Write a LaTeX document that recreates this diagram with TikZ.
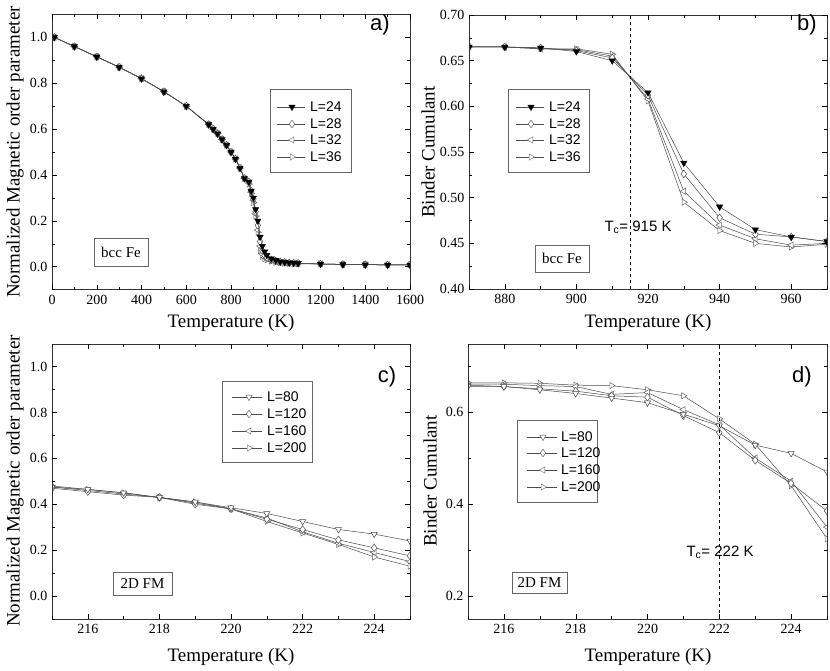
\documentclass[tikz,border=0pt]{standalone}
\usepackage{fontspec}
\setmainfont{Liberation Serif}
\newfontfamily\arial{Liberation Sans}
\usetikzlibrary{plotmarks}
\begin{document}
\begin{tikzpicture}[x=1pt,y=1pt,
  ser/.style={draw=black!70,line width=0.5pt},
  m24/.style={mark=triangle*,mark size=3.6pt,mark options={solid,rotate=180,fill=black,draw=black}},
  mdn/.style={mark=triangle*,mark size=3.6pt,mark options={solid,rotate=180,fill=white,draw=black!70}},
  mdi/.style={mark=diamond*,mark size=3.8pt,mark options={solid,fill=white,draw=black!70}},
  mle/.style={mark=triangle*,mark size=3.6pt,mark options={solid,rotate=90,fill=white,draw=black!60}},
  mri/.style={mark=triangle*,mark size=3.6pt,mark options={solid,rotate=-90,fill=white,draw=black!60}},
  tick/.style={font=\fontsize{14}{16}\selectfont},
  ttl/.style={font=\fontsize{19}{22}\selectfont},
  lg/.style={font=\arial\fontsize{14}{16}\selectfont,anchor=west,inner sep=0pt},
  pl/.style={font=\arial\fontsize{22}{24}\selectfont},
  fbox/.style={draw=black!60,fill=white,font=\fontsize{15}{17}\selectfont}]
\useasboundingbox[fill=white] (0,0) rectangle (830,670);

% ================= Panel a
\begin{scope}[x=0.22375pt,y=229.4pt,shift={(52pt,403.3pt)}]
\begin{scope}
\clip (0,-0.1) rectangle (1600,1.1);
\draw[ser,mri] plot coordinates {(10,1.0)(100,0.96)(200,0.915)(300,0.87)(400,0.82)(500,0.763)(600,0.70)(700,0.62)(720,0.60)(740,0.58)(760,0.555)(780,0.53)(800,0.50)(820,0.47)(840,0.43)(860,0.385)(880,0.36)(890,0.32)(900,0.28)(910,0.22)(920,0.15)(930,0.07)(940,0.045)(950,0.035)(960,0.03)(980,0.025)(1000,0.02)(1020,0.018)(1040,0.016)(1060,0.015)(1080,0.014)(1100,0.013)(1200,0.012)(1300,0.01)(1400,0.009)(1500,0.008)(1600,0.008)};
\draw[ser,mle] plot coordinates {(10,1.0)(100,0.96)(200,0.915)(300,0.87)(400,0.82)(500,0.763)(600,0.70)(700,0.62)(720,0.60)(740,0.58)(760,0.555)(780,0.53)(800,0.50)(820,0.47)(840,0.43)(860,0.385)(880,0.365)(890,0.325)(900,0.29)(910,0.23)(920,0.16)(930,0.09)(940,0.055)(950,0.04)(960,0.035)(980,0.028)(1000,0.022)(1020,0.019)(1040,0.017)(1060,0.016)(1080,0.015)(1100,0.014)(1200,0.012)(1300,0.01)(1400,0.009)(1500,0.008)(1600,0.008)};
\draw[ser,mdi] plot coordinates {(10,1.0)(100,0.96)(200,0.915)(300,0.87)(400,0.82)(500,0.763)(600,0.70)(700,0.62)(720,0.60)(740,0.58)(760,0.555)(780,0.53)(800,0.50)(820,0.47)(840,0.43)(860,0.385)(880,0.37)(890,0.33)(900,0.295)(910,0.24)(920,0.18)(930,0.11)(940,0.07)(950,0.05)(960,0.04)(980,0.03)(1000,0.025)(1020,0.021)(1040,0.019)(1060,0.017)(1080,0.016)(1100,0.015)(1200,0.012)(1300,0.01)(1400,0.009)(1500,0.008)(1600,0.008)};
\draw[ser,m24] plot coordinates {(10,1.0)(100,0.96)(200,0.915)(300,0.87)(400,0.82)(500,0.763)(600,0.70)(700,0.62)(720,0.60)(740,0.58)(760,0.555)(780,0.53)(800,0.50)(820,0.47)(840,0.43)(860,0.385)(880,0.37)(890,0.33)(900,0.30)(910,0.25)(920,0.20)(930,0.13)(940,0.09)(950,0.065)(960,0.05)(980,0.035)(1000,0.028)(1020,0.022)(1040,0.02)(1060,0.018)(1080,0.016)(1100,0.015)(1200,0.012)(1300,0.01)(1400,0.009)(1500,0.008)(1600,0.008)};
\end{scope}
\draw[black!80] (0,-0.1) rectangle (1600,1.1);
\foreach \t in {0,200,...,1600} {\draw (\t,-0.1) -- ++(0,5pt); \draw (\t,1.1) -- ++(0,-5pt); \node[tick,below=2pt] at (\t,-0.1) {\t};}
\foreach \t in {100,300,...,1500} {\draw (\t,-0.1) -- ++(0,3pt); \draw (\t,1.1) -- ++(0,-3pt);}
\foreach \v in {0.0,0.2,0.4,0.6,0.8,1.0} {\draw (0,\v) -- ++(5pt,0); \draw (1600,\v) -- ++(-5pt,0); \node[tick,left=1pt] at (0,\v) {\v};}
\foreach \v in {-0.1,0.1,0.3,0.5,0.7,0.9} {\draw (0,\v) -- ++(3pt,0); \draw (1600,\v) -- ++(-3pt,0);}
\end{scope}
\node[ttl] (axa) at (231,347) {Temperature (K)};
\node[ttl,rotate=90] (aya) at (15,518) {Normalized Magnetic order parameter};
\node[pl] (la) at (380,645) {a)};
\draw[black!60,fill=white] (270,581) rectangle (351,498);
\draw[ser] (277,563)--(305,563); \path[m24] plot coordinates {(292,563)}; \node[lg] (ta1) at (310,563) {L=24};
\draw[ser] (277,546)--(305,546); \path[mdi] plot coordinates {(292,546)}; \node[lg] (ta2) at (310,546) {L=28};
\draw[ser] (277,530)--(305,530); \path[mle] plot coordinates {(292,530)}; \node[lg] (ta3) at (310,530) {L=32};
\draw[ser] (277,513)--(305,513); \path[mri] plot coordinates {(292,513)}; \node[lg] (ta4) at (310,513) {L=36};
\node[fbox,minimum width=54pt,minimum height=28pt] (fa) at (121,418) {bcc Fe};

% ================= Panel b
\begin{scope}[x=3.58pt,y=913.3pt,shift={(-2645.6pt,15.68pt)}]
\begin{scope}
\clip (870,0.4) rectangle (970,0.7);
\draw[ser,mri] plot coordinates {(870,.665)(880,.665)(890,.663)(900,.663)(910,.657)(920,.606)(930,.495)(940,.464)(950,.450)(960,.446)(970,.449)};
\draw[ser,mle] plot coordinates {(870,.665)(880,.665)(890,.663)(900,.662)(910,.655)(920,.608)(930,.507)(940,.470)(950,.455)(960,.448)(970,.450)};
\draw[ser,mdi] plot coordinates {(870,.665)(880,.665)(890,.664)(900,.661)(910,.653)(920,.612)(930,.526)(940,.478)(950,.460)(960,.457)(970,.452)};
\draw[ser,m24] plot coordinates {(870,.665)(880,.665)(890,.664)(900,.660)(910,.650)(920,.615)(930,.538)(940,.490)(950,.465)(960,.457)(970,.452)};
\end{scope}
\draw[dashed,line width=0.8pt] (915,0.4) -- (915,0.7);
\draw[black!80] (870,0.4) rectangle (970,0.7);
\foreach \t in {880,900,...,960} {\draw (\t,0.4) -- ++(0,5pt); \draw (\t,0.7) -- ++(0,-5pt); \node[tick,below=2pt] at (\t,0.4) {\t};}
\foreach \t in {870,890,...,970} {\draw (\t,0.4) -- ++(0,3pt); \draw (\t,0.7) -- ++(0,-3pt);}
\foreach \v in {0.40,0.45,0.50,0.55,0.60,0.65,0.70} {\draw (870,\v) -- ++(5pt,0); \draw (970,\v) -- ++(-5pt,0); \node[tick,left=1pt] at (870,\v) {\v};}
\foreach \v in {0.425,0.475,0.525,0.575,0.625,0.675} {\draw (870,\v) -- ++(3pt,0); \draw (970,\v) -- ++(-3pt,0);}
\end{scope}
\node[ttl] (axb) at (648,347) {Temperature (K)};
\node[ttl,rotate=90] (ayb) at (428,518) {Binder Cumulant};
\node[pl] (lb) at (807,645) {b)};
\node[font=\arial\fontsize{15}{17}\selectfont,anchor=west] (tcb) at (601,443) {T\textsubscript{c}= 915 K};
\draw[black!60,fill=white] (508,581) rectangle (589,498);
\draw[ser] (516,563)--(544,563); \path[m24] plot coordinates {(531,563)}; \node[lg] (tb1) at (549,563) {L=24};
\draw[ser] (516,546)--(544,546); \path[mdi] plot coordinates {(531,546)}; \node[lg] (tb2) at (549,546) {L=28};
\draw[ser] (516,530)--(544,530); \path[mle] plot coordinates {(531,530)}; \node[lg] (tb3) at (549,530) {L=32};
\draw[ser] (516,513)--(544,513); \path[mri] plot coordinates {(531,513)}; \node[lg] (tb4) at (549,513) {L=36};
\node[fbox,minimum width=54pt,minimum height=27pt] (fb) at (562,411.5) {bcc Fe};

% ================= Panel c
\begin{scope}[x=35.8pt,y=229.3pt,shift={(-7645pt,74pt)}]
\begin{scope}
\clip (215,-0.1) rectangle (225,1.1);
\draw[ser,mri] plot coordinates {(215,.48)(216,.465)(217,.45)(218,.43)(219,.41)(220,.38)(221,.325)(222,.275)(223,.225)(224,.17)(225,.13)};
\draw[ser,mle] plot coordinates {(215,.475)(216,.46)(217,.445)(218,.43)(219,.405)(220,.38)(221,.34)(222,.28)(223,.23)(224,.19)(225,.15)};
\draw[ser,mdi] plot coordinates {(215,.47)(216,.455)(217,.44)(218,.43)(219,.40)(220,.38)(221,.335)(222,.29)(223,.245)(224,.21)(225,.175)};
\draw[ser,mdn] plot coordinates {(215,.475)(216,.465)(217,.45)(218,.43)(219,.41)(220,.385)(221,.36)(222,.325)(223,.29)(224,.27)(225,.24)};
\end{scope}
\draw[black!80] (215,-0.1) rectangle (225,1.1);
\foreach \t in {216,218,...,224} {\draw (\t,-0.1) -- ++(0,5pt); \draw (\t,1.1) -- ++(0,-5pt); \node[tick,below=2pt] at (\t,-0.1) {\t};}
\foreach \t in {215,217,...,225} {\draw (\t,-0.1) -- ++(0,3pt); \draw (\t,1.1) -- ++(0,-3pt);}
\foreach \v in {0.0,0.2,0.4,0.6,0.8,1.0} {\draw (215,\v) -- ++(5pt,0); \draw (225,\v) -- ++(-5pt,0); \node[tick,left=1pt] at (215,\v) {\v};}
\foreach \v in {-0.1,0.1,0.3,0.5,0.7,0.9} {\draw (215,\v) -- ++(3pt,0); \draw (225,\v) -- ++(-3pt,0);}
\end{scope}
\node[ttl] (axc) at (231,13) {Temperature (K)};
\node[ttl,rotate=90] (ayc) at (15,189) {Normalized Magnetic order parameter};
\node[pl] (lc) at (387,293) {c)};
\draw[black!60,fill=white] (222,289) rectangle (312,208);
\draw[ser] (232,273)--(262,273); \path[mdn] plot coordinates {(249,273)}; \node[lg] (tc1) at (267,273) {L=80};
\draw[ser] (232,256)--(262,256); \path[mdi] plot coordinates {(249,256)}; \node[lg] (tc2) at (267,256) {L=120};
\draw[ser] (232,239)--(262,239); \path[mle] plot coordinates {(249,239)}; \node[lg] (tc3) at (267,239) {L=160};
\draw[ser] (232,222)--(262,222); \path[mri] plot coordinates {(249,222)}; \node[lg] (tc4) at (267,222) {L=200};
\node[fbox,minimum width=59pt,minimum height=23pt] (fc) at (142.5,86.5) {2D FM};

% ================= Panel d
\begin{scope}[x=35.9pt,y=461pt,shift={(-7250.5pt,-18.5pt)}]
\begin{scope}
\clip (215,0.151) rectangle (225,0.7475);
\draw[ser,mri] plot coordinates {(215,.663)(216,.663)(217,.662)(218,.658)(219,.657)(220,.648)(221,.635)(222,.585)(223,.53)(224,.44)(225,.325)};
\draw[ser,mle] plot coordinates {(215,.66)(216,.66)(217,.657)(218,.655)(219,.638)(220,.642)(221,.605)(222,.572)(223,.50)(224,.45)(225,.35)};
\draw[ser,mdi] plot coordinates {(215,.658)(216,.655)(217,.65)(218,.645)(219,.635)(220,.632)(221,.592)(222,.555)(223,.495)(224,.445)(225,.385)};
\draw[ser,mdn] plot coordinates {(215,.655)(216,.655)(217,.648)(218,.64)(219,.63)(220,.62)(221,.595)(222,.57)(223,.528)(224,.51)(225,.47)};
\end{scope}
\draw[dashed,line width=0.8pt] (222,0.151) -- (222,0.7475);
\draw[black!80] (215,0.151) rectangle (225,0.7475);
\foreach \t in {216,218,...,224} {\draw (\t,0.151) -- ++(0,5pt); \draw (\t,0.7475) -- ++(0,-5pt); \node[tick,below=2pt] at (\t,0.151) {\t};}
\foreach \t in {215,217,...,225} {\draw (\t,0.151) -- ++(0,3pt); \draw (\t,0.7475) -- ++(0,-3pt);}
\foreach \v in {0.2,0.4,0.6} {\draw (215,\v) -- ++(5pt,0); \draw (225,\v) -- ++(-5pt,0); \node[tick,left=1pt] at (215,\v) {\v};}
\foreach \v in {0.3,0.5,0.7} {\draw (215,\v) -- ++(3pt,0); \draw (225,\v) -- ++(-3pt,0);}
\end{scope}
\node[ttl] (axd) at (648,13) {Temperature (K)};
\node[ttl,rotate=90] (ayd) at (430,189) {Binder Cumulant};
\node[pl] (ld) at (802,293) {d)};
\node[font=\arial\fontsize{15}{17}\selectfont,anchor=west] (tcd) at (683,118) {T\textsubscript{c}= 222 K};
\draw[black!60,fill=white] (517,250) rectangle (597,168);
\draw[ser] (527,233)--(557,233); \path[mdn] plot coordinates {(543,233)}; \node[lg] (td1) at (561,233) {L=80};
\draw[ser] (527,217)--(557,217); \path[mdi] plot coordinates {(543,217)}; \node[lg] (td2) at (561,217) {L=120};
\draw[ser] (527,200)--(557,200); \path[mle] plot coordinates {(543,200)}; \node[lg] (td3) at (561,200) {L=160};
\draw[ser] (527,183)--(557,183); \path[mri] plot coordinates {(543,183)}; \node[lg] (td4) at (561,183) {L=200};
\node[fbox,minimum width=55pt,minimum height=21pt] (fd) at (539.5,87.5) {2D FM};
\end{tikzpicture}
\end{document}
